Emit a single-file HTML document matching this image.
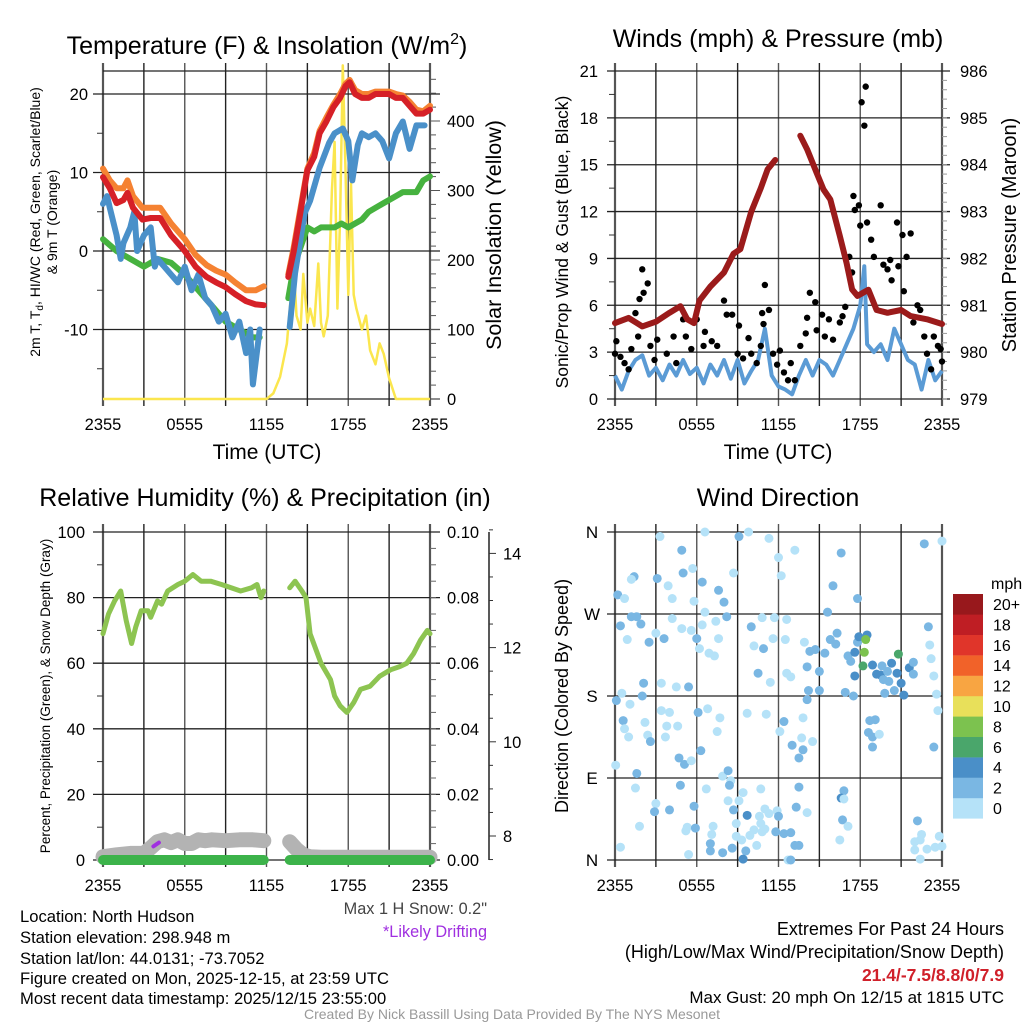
<!DOCTYPE html>
<html><head><meta charset="utf-8">
<style>
html,body{margin:0;padding:0;background:#fff;}
svg{display:block;font-family:"Liberation Sans",Arial,sans-serif;}
</style></head>
<body>
<svg id="chart" width="1024" height="1024" viewBox="0 0 1024 1024" xmlns="http://www.w3.org/2000/svg">
<rect width="1024" height="1024" fill="#fff"/>
<g id="layer"></g>
<!-- titles -->
<text x="267" y="54" font-size="25" text-anchor="middle">Temperature (F) &amp; Insolation (W/m<tspan font-size="16" dy="-10">2</tspan><tspan dy="10">)</tspan></text>
<text x="778" y="47" font-size="25" text-anchor="middle">Winds (mph) &amp; Pressure (mb)</text>
<text x="265" y="506" font-size="25" text-anchor="middle">Relative Humidity (%) &amp; Precipitation (in)</text>
<text x="778" y="506" font-size="25" text-anchor="middle">Wind Direction</text>
<!-- x titles -->
<text x="267" y="459" font-size="21" text-anchor="middle">Time (UTC)</text>
<text x="778" y="459" font-size="21" text-anchor="middle">Time (UTC)</text>
<!-- y titles -->
<text transform="translate(40,222) rotate(-90)" font-size="14" text-anchor="middle">2m T, T<tspan font-size="10" dy="3">d</tspan><tspan dy="-3">, HI/WC (Red, Green, Scarlet/Blue)</tspan></text>
<text transform="translate(57,222) rotate(-90)" font-size="14" text-anchor="middle">&amp; 9m T (Orange)</text>
<text transform="translate(501,235) rotate(-90)" font-size="21.5" text-anchor="middle">Solar Insolation (Yellow)</text>
<text transform="translate(568,242) rotate(-90)" font-size="17.5" text-anchor="middle">Sonic/Prop Wind &amp; Gust (Blue, Black)</text>
<text transform="translate(1016,235) rotate(-90)" font-size="20" text-anchor="middle">Station Pressure (Maroon)</text>
<text transform="translate(50,696) rotate(-90)" font-size="13.5" text-anchor="middle">Percent, Precipitation (Green), &amp; Snow Depth (Gray)</text>
<text transform="translate(568,696) rotate(-90)" font-size="18" text-anchor="middle">Direction (Colored By Speed)</text>
<!-- footer -->
<g font-size="16.6">
<text x="20" y="922">Location: North Hudson</text>
<text x="20" y="943">Station elevation: 298.948 m</text>
<text x="20" y="964">Station lat/lon: 44.0131; -73.7052</text>
<text x="20" y="984">Figure created on Mon, 2025-12-15, at 23:59 UTC</text>
<text x="20" y="1004">Most recent data timestamp: 2025/12/15 23:55:00</text>
</g>
<text x="487" y="914" font-size="16.3" fill="#444" text-anchor="end">Max 1 H Snow: 0.2"</text>
<text x="487" y="937" font-size="16.3" fill="#a030e0" text-anchor="end">*Likely Drifting</text>
<text x="1004" y="935" font-size="18" text-anchor="end">Extremes For Past 24 Hours</text>
<text x="1004" y="958" font-size="18" text-anchor="end">(High/Low/Max Wind/Precipitation/Snow Depth)</text>
<text x="1004" y="981" font-size="17.5" font-weight="bold" fill="#d0202a" text-anchor="end">21.4/-7.5/8.8/0/7.9</text>
<text x="1004" y="1003" font-size="17" text-anchor="end">Max Gust: 20 mph On 12/15 at 1815 UTC</text>
<text x="512" y="1019" font-size="14" fill="#999" text-anchor="middle">Created By Nick Bassill Using Data Provided By The NYS Mesonet</text>
</svg>
<script>
// ---------- data ----------
const xTickLabels = ["2355","0555","1155","1755","2355"];
const tempHours = [0,0.5,1,1.5,1.8,2.2,2.9,3.5,4.2,5,6,6.8,7.6,8.3,9,9.7,10.5,11.2,11.8,null,13.6,14,14.4,15,15.5,15.9,16.4,16.9,17.4,17.8,18.1,18.5,19,19.5,20,20.5,21,21.5,22,22.5,23,23.5,24];
const temp2m = [9.4,8,6.1,6.5,7.4,5.5,4,4.2,4.2,2,0,-2,-3.3,-4,-4.6,-5.5,-6.4,-6.8,-6.9,null,-3.3,0,4,10.3,12,15,16.5,18.3,19.5,21,21.5,20,19.5,19.5,20,20,20,19.5,19.5,18.5,17.5,17.5,18];
const temp9m = [10.5,9,8,8,9,7,5.5,5.5,5.5,3.5,1.5,-0.5,-1.8,-2.5,-3,-4,-5,-5,-4.5,null,-3,0.5,4.5,10.5,12.5,15.3,17,18.6,20,21.3,21.8,20.5,20,20,20.3,20.3,20.3,20,19.8,19,18,17.8,18.5];
const wcHours = [0,0.3,0.5,1,1.3,1.5,2,2.3,2.5,3,3.5,3.8,4,4.5,5,5.5,6,6.5,7,7.5,8,8.5,9,9.5,10,10.5,10.8,11,11.5,null,13.7,14.1,14.8,15.2,15.9,16.6,17,17.6,18,18.3,18.7,19,19.5,20,20.5,21,21.5,22,22.5,23,23.6];
const wcTemp = [6,7,5.5,2,-1,1,3,5,0,2,3,-2,-1,-2,-3,-4,-2,-5,-3,-6,-7,-9,-8,-11,-9,-13,-10,-17,-10,null,-9.7,-2.8,4.8,6.4,10.6,13.8,15,15.6,14,9,13.5,15,14.5,15,14,11.8,15,16.5,13,16,16];
const dewHours = [0,1,2,3,4,5,6,7,8,9,10,11,11.5,null,13.6,14,14.5,15,15.5,16,16.5,17,17.5,18,18.5,19,19.5,20,20.5,21,21.5,22,22.5,23,23.5,24];
const dewTemp = [1.5,0,-1,-2,-1,-1.5,-3,-5,-7,-9,-10,-11,-11,null,-6,-2,0.5,3,2.5,3,3,3,3.5,3,3.5,4,5,5.5,6,6.5,7,7.5,7.5,7.5,9,9.5];
const solarHours = [0,12,12.5,13,13.5,13.8,14,14.2,14.5,14.7,15,15.2,15.5,15.8,16,16.2,16.5,16.8,17,17.2,17.4,17.6,17.8,18,18.2,18.4,18.6,19,19.3,19.6,20,20.3,20.6,21,21.5,24];
const solarVal = [0,0,8,32,80,150,190,120,100,180,110,130,105,195,110,90,120,300,370,130,260,480,330,150,310,150,130,100,120,70,50,80,65,30,0,0];

const windHours = [0,0.5,1,1.5,2,2.5,3,3.5,4,4.5,5,5.5,6,6.5,7,7.5,8,8.5,9,9.5,10,10.5,11,11.5,12,12.5,13,13.5,14,14.5,15,15.5,16,16.5,17,17.5,18,18.3,18.5,19,19.5,20,20.5,21,21.5,22,22.5,23,23.5,24];
const windSpeed = [1.5,0.6,1.8,2.5,2.8,1.5,2,1.2,2.2,1.5,2.5,1.6,2.0,1.0,2.2,1.5,2.5,1.3,2.5,1.0,1.8,2.5,4.5,1.5,0.8,0.6,0.3,1.5,2.5,1.5,2.5,2.2,1.5,2.5,3.5,4.5,6,8.5,3.5,3,3.5,2.5,4.5,3.5,2.5,2.2,0.6,2.5,1.2,1.8];
const pressHours = [0,1,2,3,4,4.8,5.3,5.8,6.2,7,8,8.7,9.2,10,10.7,11.2,11.76,null,13.6,14.1,14.8,15.3,15.8,16.5,17,17.4,17.8,18.6,19.2,20,21,21.7,22.9,24];
const pressVal = [980.62,980.73,980.55,980.65,980.84,980.98,980.7,980.62,981.1,981.4,981.7,982.1,982.2,983,983.5,983.9,984.1,null,984.62,984.33,983.83,983.47,983.26,982.48,981.9,981.34,981.2,981.33,980.9,980.84,980.9,980.77,980.7,980.6];
const gustHours = [0,0.1,0.4,0.7,1,1.2,1.5,1.7,1.8,2,2.1,2.4,2.6,2.9,3.1,3.8,4.3,4.5,5,5.2,5.6,6,6.5,6.6,7.1,7.5,8,8.2,8.6,9,9.1,9.4,9.8,10,10.4,10.7,10.8,10.9,11,11.3,11.6,11.9,12.1,12.4,12.7,12.9,13.2,13.6,14,14.1,14.3,14.7,14.8,15.2,15.4,15.7,16,16.5,16.7,16.9,17.2,17.4,17.5,17.6,17.9,18,18.1,18.4,18.3,18.5,18.8,19,19.5,19.7,20,20.2,20.3,20.7,20.8,21.1,21.2,21.4,21.7,21.9,22.2,22.4,22.7,22.9,23.2,23.4,23.7,23.9,24];
const gustVal = [2.9,3.7,2.7,2.3,1.9,3.2,5.5,4.0,6.4,8.3,6.8,7.4,3.4,2.5,3.8,2.9,4.0,2.3,5.1,4.0,3.2,5.1,3.4,4.3,3.7,3.4,6.3,5.4,5.4,2.9,4.7,2.6,3.9,2.9,2.3,3.4,5.5,4.8,7.3,5.7,2.9,2.2,3.1,1.7,1.2,2.3,1.2,3.4,4.2,5.2,6.8,6.2,4.4,5.4,4.0,5.1,3.8,4.9,5.3,5.9,9.1,8.1,13,12.1,12.4,11.1,19,20,17.5,11.3,10.2,9.1,12.4,8.6,8.3,8.9,7.6,11.3,8.5,10.5,6.9,9.1,10.6,4.9,6.0,5.7,4.0,2.9,1.9,4.0,3.4,3.2,2.4];

const rhHours = [0,0.4,0.85,1.3,1.7,2.1,2.4,2.8,3.3,3.5,4,4.3,4.75,5.5,6,6.6,7.2,7.9,8.7,9.4,10.1,10.9,11.3,11.6,11.8,null,13.7,14.1,14.6,14.9,15.2,16,16.7,17,17.4,17.9,18.4,18.9,19.6,20.3,21.1,21.8,22.3,22.8,23.3,23.8,24];
const rhVal = [69,75,79,82,73,66,71,76,76,74,79,78,82,84,85,87,85,85,84,83,82,83,84,80,82,null,83,85,82,80,69,60,55,50,47,45,48,52,53,56,58,59,60,63,67,70,69];
const snowHours = [0,1,2,3,3.5,4,4.5,5,5.5,6,6.5,7,7.5,8,9,10,11,11.8,null,13.7,14.2,14.7,15.2,16,18,20,22,24];
const snowDepth = [7.56,7.6,7.63,7.63,7.75,7.88,7.92,7.86,7.92,7.84,7.84,7.92,7.9,7.92,7.9,7.92,7.92,7.9,null,7.88,7.72,7.6,7.56,7.55,7.55,7.55,7.55,7.55];
const precipHours = [0,11.8,null,13.7,24];
const precipVal = [0,0,null,0,0];
const driftHours = [3.7,4.1];
const driftDepth = [7.78,7.86];

const dirHours = [3.3,6.6,9.1,9.8,11.3,13.2,16.6,22.7,24,4.9,1.4,1.2,3.1,5,5.7,6.4,7.6,8,8.7,12,12.2,16,17.8,0.2,0.7,3.9,4.2,5.8,6.6,1.2,1.6,0.4,1.9,0.9,2.5,3,3.6,4.2,4.9,5.6,6,6.4,6.2,6.9,7.3,7.4,7.6,8.2,10,10.2,10.8,10.9,11.6,11.7,12.6,12.5,13.9,14.3,14.7,15.4,15.6,15.8,16.3,16.2,17.1,17.3,17.6,17.8,17.9,18.5,18.4,18.3,18.2,17.6,18.9,19.2,19.5,19.6,20,20.3,20.8,20.7,21,21.2,21.6,21.9,21.9,19.7,20.1,20.5,19.8,23,23.1,23.2,23.4,23.6,23.7,23.4,14.2,15,15,14.1,14.1,16.9,17.5,10.5,11.4,12.6,12.9,2.1,2,3.4,4.5,5.4,0.5,0.1,1.1,0.6,0.7,1,2.2,2.4,2.6,3.4,4,3.8,3.7,4.6,4.7,5.1,5.6,6.1,6.8,7.7,7.5,6.3,9.7,11.1,12.4,12.1,13.7,13.8,14.5,13.8,13,13.5,18.7,19.1,18.6,18.9,19.4,18.9,0.05,1.6,7.9,8.3,8.5,8.4,1.5,3,2.9,1.8,4,4.8,5.8,5.3,5.2,5.9,5.4,6.7,7.2,7.1,7,7,7.9,8.3,8.7,9.1,9.4,8.9,8.9,9.3,8.6,9.6,9.4,9.7,10.2,9.9,10.4,10.6,10.7,10.7,11,11.3,11,10.8,11.8,11.9,12,12.4,12.9,13.2,13.5,12.7,12.9,13.3,13.5,14.1,16.8,16.6,16.8,16.7,17.1,16.5,22.2,22.5,22.4,22,22.9,22,22.4,23.8,23.5,24,0.4];
const dirDeg = [355,360,355,360,353,340,337,347,350,340,311,308,309,315,320,305,296,283,315,332,312,301,287,291,287,301,287,284,272,267,267,257,259,242,239,249,243,265,254,252,243,258,232,227,224,262,243,267,256,235,266,232,243,266,264,242,239,229,231,227,272,242,249,237,224,218,228,239,245,247,242,228,213,202,214,204,203,213,207,216,226,205,194,181,211,217,204,198,196,186,183,256,236,221,202,182,164,124,186,207,186,176,212,184,180,205,195,205,201,194,180,194,190,190,183,175,171,153,144,135,151,137,130,164,162,147,135,147,112,105,109,162,166,156,141,120,161,160,152,141,134,156,130,121,126,112,153,154,140,135,138,124,104,95,92,98,87,82,79,62,53,37,55,82,59,36,32,35,6,78,37,28,18,10,8,65,55,65,74,40,26,22,13,10,1,49,33,27,16,48,78,40,56,51,34,31,31,54,48,29,30,16,16,0,0,58,80,52,76,68,67,44,37,22,43,28,22,20,12,11,1,26,14,15,14];
const dirSpeed = [1,1.5,3,1,1,1,3,2.5,1,2.5,3,1,3,2.5,1,2.5,2.5,3,1,1,1,3,2.5,2.5,1,1,1,1,1,2.5,2.5,2.5,2.5,1,2.5,1,2.5,1,1,1,3,1,1,1,1,1,1,2.5,3,1,1,2.5,1,1,1,1,1,3,2.5,2.5,2.5,2.5,2.5,2.5,2.5,2.5,4,2.5,4,4.5,9,9,7,4.5,4.5,4.5,4.5,2.5,2.5,4.5,7,4.5,4.5,4.5,4.5,2.5,2.5,2.5,2.5,2.5,2.5,3,1,1,1,1,1,3,2.5,2.5,2.5,2.5,2.5,2.5,3,2.5,1,1,1,3,2.5,1,1,3,1,3,1,3,1,1,1,1,3,1,1,1,1,1,3,3,1,3,1,1,1,3,1,1,3,1,1,1,1,2.5,2.5,3.5,2.5,2.5,2.5,3,1,3,1,2.5,1,3,1,3,1,1,3,1,2.5,2.5,3,1,1,3,1,1,1,1,3,3,3,1,3,1,1,1,1,1,3,3,4,4,1,1,1,1,1,1,1,1,1,1,3,1,3,3,3,3,3,1,3,3,2.5,1,3,4,1,2.5,1,1,3];

const speedColors = ["#b5e2f8","#7ab7e3","#4a8fc8","#4aa66b","#7cc24f","#e8e05a","#f8a542","#f16229","#e0352a","#bf1e24","#98181c"];
const speedLabels = ["0","2","4","6","8","10","12","14","16","18","20+"];

// ---------- helpers ----------
const NS="http://www.w3.org/2000/svg";
const layer=document.getElementById('layer');
function mk(tag,attrs,parent){const e=document.createElementNS(NS,tag);for(const k in attrs)e.setAttribute(k,attrs[k]);(parent||layer).appendChild(e);return e;}
function pathD(hs,vs,fx,fy){let d='',pen=false;for(let i=0;i<hs.length;i++){if(hs[i]===null||vs[i]===null||vs[i]===undefined){pen=false;continue;}d+=(pen?'L':'M')+fx(hs[i]).toFixed(1)+','+fy(vs[i]).toFixed(1);pen=true;}return d;}
function txt(x,y,s,size,anchor,parent){const t=mk('text',{x:x,y:y,'font-size':size,'text-anchor':anchor||'start'},parent);t.textContent=s;return t;}

const PL=[103,615], PR=[430,942], PT=[71,532], PB=[399,860];
function xs(p){return h=>PL[p%2]+h*(PR[p%2]-PL[p%2])/24;}
const TF=16.5;

function frame(px,py,name){
  const L=PL[px],R=PR[px],T=PT[py],B=PB[py];
  const g=mk('g',{});
  
  
  for(let i=0;i<=8;i++){
    const x=L+i*(R-L)/8;
    mk('line',{x1:x,x2:x,y1:T-8,y2:B+7,stroke:(i%2?'#222':'#555'),'stroke-width':(i==0||i==8)?2.2:1.4},g);
  }
  for(let i=0;i<5;i++){
    const lb=txt(L+i*(R-L)/4,py==1?891:430,xTickLabels[i],TF,'middle',g);
    
    
  }
  return g;
}

// ---------- panel 1 ----------
(function(){
  const x=xs(0), yT=v=>251-v*7.85, yS=s=>399-s*0.695;
  const g=frame(0,0,'temperature');
  [20,10,0,-10].forEach(v=>{mk('line',{x1:93,x2:440,y1:yT(v),y2:yT(v),stroke:'#222','stroke-width':1.3},g);const t=txt(88,yT(v)+6,String(v),TF,'end',g);});
  [15,5,-5,-15].forEach(v=>mk('line',{x1:97,x2:103,y1:yT(v),y2:yT(v),stroke:'#333'},g));
  mk('line',{x1:103,x2:430,y1:71,y2:71,stroke:'#222','stroke-width':1.3},g);
  mk('line',{x1:103,x2:440,y1:399,y2:399,stroke:'#222','stroke-width':1.3},g);
  for(let s=0;s<=460;s+=20){mk('line',{x1:430,x2:s%100==0?440:436,y1:yS(s),y2:yS(s),stroke:'#555'},g);}
  [0,100,200,300,400].forEach(s=>{const t=txt(447,yS(s)+6,String(s),TF,'start',g);});
  const sol=mk('path',{d:pathD(solarHours,solarVal,x,yS),fill:'none',stroke:'#fbe64e','stroke-width':2.5,'stroke-linejoin':'round'});
  
  const dew=mk('path',{d:pathD(dewHours,dewTemp,x,yT),fill:'none',stroke:'#46b23f','stroke-width':6,'stroke-linejoin':'round','stroke-linecap':'round'});
  
  const wc=mk('path',{d:pathD(wcHours,wcTemp,x,yT),fill:'none',stroke:'#4a90c9','stroke-width':6,'stroke-linejoin':'round','stroke-linecap':'round'});
  
  const o=mk('path',{d:pathD(tempHours,temp9m,x,yT),fill:'none',stroke:'#f58232','stroke-width':6,'stroke-linejoin':'round','stroke-linecap':'round'});
  
  const r=mk('path',{d:pathD(tempHours,temp2m,x,yT),fill:'none',stroke:'#d62027','stroke-width':6,'stroke-linejoin':'round','stroke-linecap':'round'});
  
})();

// ---------- panel 2 ----------
(function(){
  const x=xs(1), yW=w=>399-w*328/21, yP=p=>399-(p-979)*328/7;
  const g=frame(1,0,'wind');
  for(let w=0;w<=21;w+=3){mk('line',{x1:607,x2:950,y1:yW(w),y2:yW(w),stroke:'#222','stroke-width':1.3},g);const t=txt(598,yW(w)+6,String(w),TF,'end',g);}
  for(let w=1.5;w<21;w+=3)mk('line',{x1:609,x2:615,y1:yW(w),y2:yW(w),stroke:'#333'},g);
  for(let p=979;p<=986;p++){const t=txt(960,yP(p)+6,String(p),TF,'start',g);}
  for(let p=979;p<=986;p+=0.2)mk('line',{x1:942,x2:947,y1:yP(p),y2:yP(p),stroke:'#999'},g);
  const ws=mk('path',{d:pathD(windHours,windSpeed,x,yW),fill:'none',stroke:'#5b9bd5','stroke-width':4,'stroke-linejoin':'round'});
  
  for(let i=0;i<gustHours.length;i++){
    if(gustVal[i]===undefined)continue;
    const c=mk('circle',{cx:x(gustHours[i]),cy:yW(gustVal[i]),r:3.2,fill:'#000'});
    
    
  }
  const pr=mk('path',{d:pathD(pressHours,pressVal,x,yP),fill:'none',stroke:'#9b1b1b','stroke-width':6,'stroke-linejoin':'round','stroke-linecap':'round'});
  
})();

// ---------- panel 3 ----------
(function(){
  const x=xs(0), yR=r=>860-r*3.28, yPr=v=>860-v*3280, ySn=s=>836-(s-8)*47.1;
  const g=frame(0,1,'humidity');
  for(let r=0;r<=100;r+=20){mk('line',{x1:93,x2:440,y1:yR(r),y2:yR(r),stroke:'#222','stroke-width':1.3},g);const t=txt(85,yR(r)+6,String(r),TF,'end',g);const t2=txt(447,yR(r)+6,(r/1000).toFixed(2),TF,'start',g);}
  for(let r=10;r<100;r+=20)mk('line',{x1:97,x2:103,y1:yR(r),y2:yR(r),stroke:'#333'},g);
  for(let r=5;r<100;r+=5)mk('line',{x1:430,x2:436,y1:yR(r),y2:yR(r),stroke:'#666'},g);
  mk('line',{x1:489,x2:489,y1:532,y2:860,stroke:'#222','stroke-width':1.5},g);
  for(let s=7.5;s<=14.5;s+=0.5)mk('line',{x1:489,x2:s%2==0?496:493,y1:ySn(s),y2:ySn(s),stroke:'#333'},g);
  [8,10,12,14].forEach(s=>{const t=txt(503,ySn(s)+6,String(s),TF,'start',g);});
  const sn=mk('path',{d:pathD(snowHours,snowDepth,x,ySn),fill:'none',stroke:'#b3b3b3','stroke-width':15,'stroke-linejoin':'round','stroke-linecap':'round'});
  
  const dr=mk('path',{d:pathD(driftHours,driftDepth,x,ySn),fill:'none',stroke:'#a030e0','stroke-width':4,'stroke-linecap':'round'});
  
  const pc=mk('path',{d:pathD(precipHours,precipVal,x,yPr),fill:'none',stroke:'#3cb34a','stroke-width':10,'stroke-linecap':'round'});
  
  const rh=mk('path',{d:pathD(rhHours,rhVal,x,yR),fill:'none',stroke:'#8dc451','stroke-width':5,'stroke-linejoin':'round','stroke-linecap':'round'});
  
})();

// ---------- panel 4 ----------
(function(){
  const x=xs(1), yD=d=>860-d*328/360;
  const g=frame(1,1,'direction');
  const dl=['N','E','S','W','N'];
  for(let i=0;i<5;i++){const d=i*90;mk('line',{x1:607,x2:942,y1:yD(d),y2:yD(d),stroke:'#222','stroke-width':1.3},g);const t=txt(592,yD(d)+6,dl[i],17,'middle',g);}
  const n=Math.min(dirHours.length,dirDeg.length);
  for(let i=0;i<n;i++){
    const sp=(dirSpeed[i]===undefined)?1:dirSpeed[i];
    const ci=Math.min(10,Math.floor(sp/2));
    const c=mk('circle',{cx:x(dirHours[i]),cy:yD(dirDeg[i]),r:4.5,fill:speedColors[ci]});
    
    
  }
  const lg=mk('g',{});
  
  
  txt(991,589,'mph',16,'start',lg);
  for(let i=0;i<11;i++){
    const yy=594+(10-i)*20.4;
    const r=mk('rect',{x:953,y:yy,width:30,height:20.6,fill:speedColors[i]},lg);
    
    
    const t=txt(993,yy+16,speedLabels[i],16,'start',lg);
    
    
  }
})();
</script>
</body></html>
